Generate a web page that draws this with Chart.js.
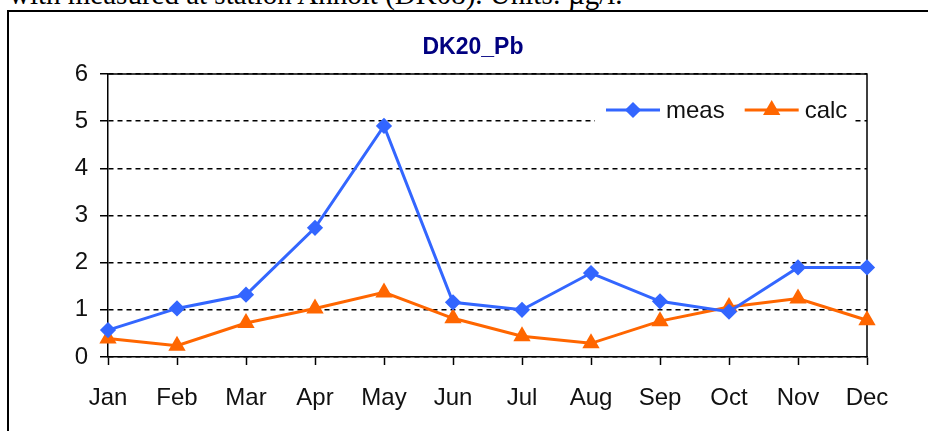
<!DOCTYPE html>
<html>
<head>
<meta charset="utf-8">
<script src="https://cdn.jsdelivr.net/npm/chart.js@4.4.0/dist/chart.umd.min.js"></script>
<style>
  html, body { margin: 0; padding: 0; background: #fff; overflow: hidden; }
  body { width: 928px; height: 431px; position: relative; }
  .caption {
    position: absolute; left: 9px; top: -20px;
    font: 29px "Liberation Serif", "Times New Roman", serif;
    line-height: 29px; color: #000; white-space: nowrap;
  }
  .frame {
    position: absolute; left: 7px; top: 10px; width: 930px; height: 430px;
    border-left: 2px solid #000; border-top: 2px solid #000;
  }
  #chartCanvas { position: absolute; left: 9px; top: 12px; }
</style>
</head>
<body>
<div class="caption">with measured at station Anholt (DK08). Units: µg/l.</div>
<div class="frame"></div>
<canvas id="chartCanvas" width="928" height="419"></canvas>
<script>
// chart data
const months = ['Jan', 'Feb', 'Mar', 'Apr', 'May', 'Jun', 'Jul', 'Aug', 'Sep', 'Oct', 'Nov', 'Dec'];
const measValues = [0.57, 1.03, 1.32, 2.74, 4.9, 1.16, 1.0, 1.78, 1.18, 0.96, 1.9, 1.9];
const calcValues = [0.39, 0.24, 0.72, 1.03, 1.37, 0.82, 0.44, 0.29, 0.76, 1.06, 1.24, 0.78];
const yTicks = [0, 1, 2, 3, 4, 5, 6];
const chartTitle = 'DK20_Pb';

const FONT = '"Liberation Sans", Arial, sans-serif';

// solid border on top and right of the plot area
const plotBorder = {
    id: 'plotBorder',
    beforeDatasetsDraw(chart) {
        const { ctx, chartArea: a } = chart;
        ctx.save();
        ctx.strokeStyle = '#000';
        ctx.lineWidth = 1.5;
        ctx.beginPath();
        ctx.moveTo(a.left, a.top);
        ctx.lineTo(a.right, a.top);
        ctx.lineTo(a.right, a.bottom);
        ctx.stroke();
        ctx.restore();
    }
};

// title + legend drawn inside the plot, like the Excel original
const insideLegend = {
    id: 'insideLegend',
    afterDatasetsDraw(chart) {
        const { ctx, chartArea: a } = chart;
        ctx.save();
        // title
        ctx.font = 'bold 23px ' + FONT;
        ctx.fillStyle = '#000080';
        ctx.textAlign = 'center';
        ctx.textBaseline = 'middle';
        ctx.fillText(chartTitle, chart.width / 2, 36);

        // legend box
        const boxX = a.left + 487, boxY = a.top + 23;
        ctx.fillStyle = '#fff';
        ctx.fillRect(boxX, boxY, 257, 27);
        ctx.font = '24px ' + FONT;
        ctx.textAlign = 'left';
        let x = boxX + 11;
        const y = boxY + 13;
        chart.data.datasets.forEach(ds => {
            ctx.strokeStyle = ds.borderColor;
            ctx.lineWidth = 3;
            ctx.beginPath();
            ctx.moveTo(x, y);
            ctx.lineTo(x + 54, y);
            ctx.stroke();
            Chart.helpers.drawPoint(ctx, {
                pointStyle: ds.pointStyle, radius: ds.pointRadius, borderWidth: 1, rotation: 0
            }, x + 27, y);
            ctx.fillStyle = ds.borderColor;
            ctx.fill();
            ctx.fillStyle = '#111';
            ctx.fillText(ds.label, x + 60, y + 1);
            x += 60 + ctx.measureText(ds.label).width + 20;
        });
        ctx.restore();
    }
};

new Chart(document.getElementById('chartCanvas'), {
    type: 'line',
    data: {
        labels: months,
        datasets: [
            {
                label: 'meas',
                data: measValues,
                borderColor: '#3366FF',
                backgroundColor: '#3366FF',
                borderWidth: 3,
                pointStyle: 'rectRot',
                pointRadius: 6,
                tension: 0
            },
            {
                label: 'calc',
                data: calcValues,
                borderColor: '#FF6600',
                backgroundColor: '#FF6600',
                borderWidth: 3,
                pointStyle: 'triangle',
                pointRadius: 7,
                tension: 0
            }
        ]
    },
    options: {
        responsive: false,
        animation: false,
        layout: { padding: { top: 62, right: 70, left: 0, bottom: 0 } },
        plugins: {
            legend: { display: false },
            title: { display: false },
            tooltip: { enabled: false }
        },
        scales: {
            x: {
                offset: false,
                grid: {
                    drawOnChartArea: false,
                    tickLength: 8,
                    tickColor: '#000',
                    tickWidth: 1.5
                },
                border: { color: '#000', width: 1.5 },
                ticks: {
                    color: '#111',
                    font: { family: FONT, size: 24 },
                    padding: 19,
                    maxRotation: 0,
                    autoSkip: false
                },
                afterFit(scale) { scale.height = 74; }
            },
            y: {
                min: 0,
                max: 6,
                afterBuildTicks(scale) { scale.ticks = yTicks.map(v => ({ value: v })); },
                grid: {
                    color: '#000',
                    lineWidth: 1.5,
                    tickLength: 8,
                    tickColor: '#000',
                    tickWidth: 1.5,
                    tickBorderDash: []
                },
                border: { color: '#000', width: 1.5, dash: [5, 4] },
                ticks: {
                    color: '#111',
                    font: { family: FONT, size: 24 },
                    padding: 12
                },
                afterFit(scale) { scale.width = 99; }
            }
        }
    },
    plugins: [plotBorder, insideLegend]
});
</script>
</body>
</html>
